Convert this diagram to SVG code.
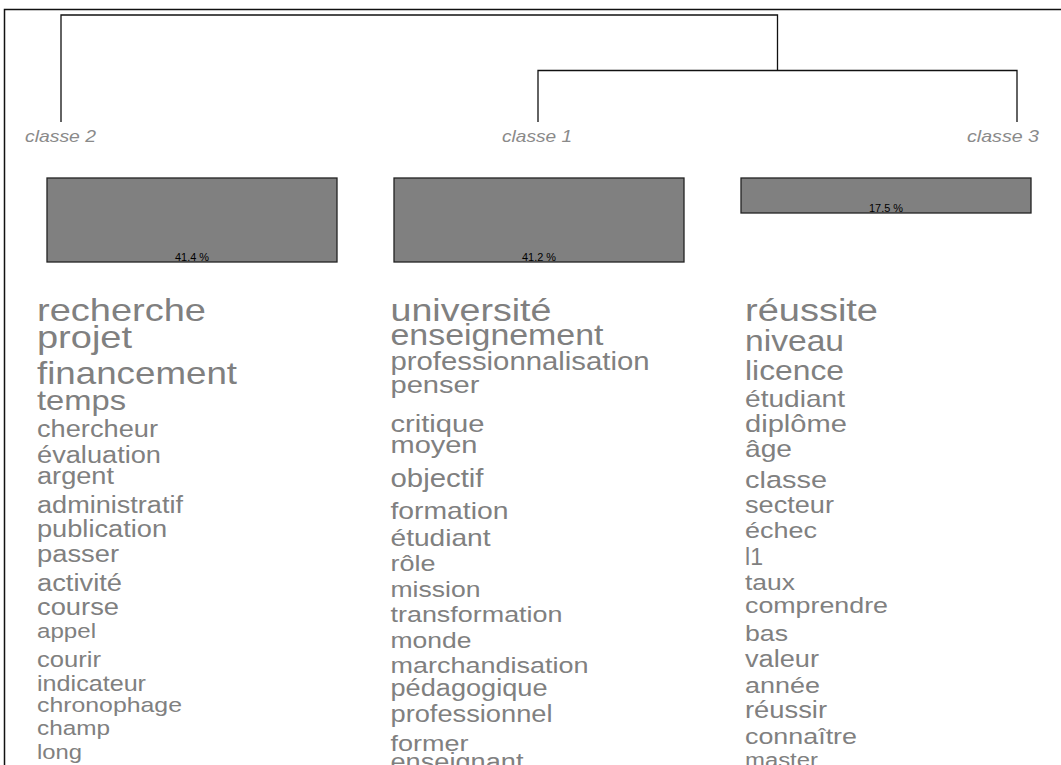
<svg xmlns="http://www.w3.org/2000/svg" width="1061" height="765" viewBox="0 0 1061 765">
<style>
.w{font-family:"Liberation Sans",Arial,sans-serif;fill:#808080}
.lab{font-family:"Liberation Sans",Arial,sans-serif;font-style:italic;font-size:17px;fill:#8a8a8a}
.pct{font-family:"Liberation Sans",Arial,sans-serif;font-size:10px;fill:#000;text-anchor:middle}
.bar{fill:#808080;stroke:#222;stroke-width:1.3}
.tree{fill:none;stroke:#111;stroke-width:1.3}
</style>
<rect x="0" y="0" width="1061" height="765" fill="#fff"/>
<rect x="4.5" y="9.5" width="1100" height="800" fill="none" stroke="#111" stroke-width="1.5"/>
<g id="connectors">
<path class="tree" d="M61,122 V15 H777.5 V70.5"/>
<path class="tree" d="M538,122 V70.5 H1017 V122"/>
</g>
<g id="classe2">
<text class="lab" x="25" y="142" textLength="71" lengthAdjust="spacingAndGlyphs">classe 2</text>
<rect class="bar" x="47" y="178" width="290" height="84"/>
<text class="pct" x="192" y="261" textLength="34" lengthAdjust="spacingAndGlyphs">41.4 %</text>
<g class="w">
<text x="37" y="321" font-size="32" textLength="169" lengthAdjust="spacingAndGlyphs">recherche</text>
<text x="37" y="348" font-size="32" textLength="95" lengthAdjust="spacingAndGlyphs">projet</text>
<text x="37" y="384" font-size="31.5" textLength="200" lengthAdjust="spacingAndGlyphs">financement</text>
<text x="37" y="410" font-size="28" textLength="89" lengthAdjust="spacingAndGlyphs">temps</text>
<text x="37" y="437" font-size="23" textLength="121" lengthAdjust="spacingAndGlyphs">chercheur</text>
<text x="37" y="463" font-size="23" textLength="124" lengthAdjust="spacingAndGlyphs">évaluation</text>
<text x="37" y="484" font-size="23" textLength="77" lengthAdjust="spacingAndGlyphs">argent</text>
<text x="37" y="513" font-size="23" textLength="146" lengthAdjust="spacingAndGlyphs">administratif</text>
<text x="37" y="537" font-size="23" textLength="130" lengthAdjust="spacingAndGlyphs">publication</text>
<text x="37" y="562" font-size="23" textLength="82" lengthAdjust="spacingAndGlyphs">passer</text>
<text x="37" y="591" font-size="23" textLength="85" lengthAdjust="spacingAndGlyphs">activité</text>
<text x="37" y="615" font-size="23" textLength="82" lengthAdjust="spacingAndGlyphs">course</text>
<text x="37" y="638" font-size="20.5" textLength="59" lengthAdjust="spacingAndGlyphs">appel</text>
<text x="37" y="667" font-size="21.5" textLength="64" lengthAdjust="spacingAndGlyphs">courir</text>
<text x="37" y="691" font-size="21.5" textLength="109" lengthAdjust="spacingAndGlyphs">indicateur</text>
<text x="37" y="712" font-size="21" textLength="145" lengthAdjust="spacingAndGlyphs">chronophage</text>
<text x="37" y="735" font-size="20.5" textLength="73" lengthAdjust="spacingAndGlyphs">champ</text>
<text x="37" y="759" font-size="20" textLength="45" lengthAdjust="spacingAndGlyphs">long</text>
</g>
</g>
<g id="classe1">
<text class="lab" x="502" y="142" textLength="70" lengthAdjust="spacingAndGlyphs">classe 1</text>
<rect class="bar" x="394" y="178" width="290" height="84"/>
<text class="pct" x="539" y="261" textLength="34" lengthAdjust="spacingAndGlyphs">41.2 %</text>
<g class="w">
<text x="390.5" y="321" font-size="31" textLength="161" lengthAdjust="spacingAndGlyphs">université</text>
<text x="390.5" y="345" font-size="29" textLength="213" lengthAdjust="spacingAndGlyphs">enseignement</text>
<text x="390.5" y="370" font-size="25.6" textLength="259" lengthAdjust="spacingAndGlyphs">professionnalisation</text>
<text x="390.5" y="393" font-size="24.7" textLength="89" lengthAdjust="spacingAndGlyphs">penser</text>
<text x="390.5" y="432" font-size="24.7" textLength="94" lengthAdjust="spacingAndGlyphs">critique</text>
<text x="390.5" y="453" font-size="24.4" textLength="87" lengthAdjust="spacingAndGlyphs">moyen</text>
<text x="390.5" y="487" font-size="24.9" textLength="93" lengthAdjust="spacingAndGlyphs">objectif</text>
<text x="390.5" y="519" font-size="24" textLength="118" lengthAdjust="spacingAndGlyphs">formation</text>
<text x="390.5" y="546" font-size="24" textLength="100" lengthAdjust="spacingAndGlyphs">étudiant</text>
<text x="390.5" y="571" font-size="22.7" textLength="45" lengthAdjust="spacingAndGlyphs">rôle</text>
<text x="390.5" y="597" font-size="22.5" textLength="90" lengthAdjust="spacingAndGlyphs">mission</text>
<text x="390.5" y="622" font-size="22.9" textLength="172" lengthAdjust="spacingAndGlyphs">transformation</text>
<text x="390.5" y="648" font-size="22.4" textLength="81" lengthAdjust="spacingAndGlyphs">monde</text>
<text x="390.5" y="673" font-size="22.9" textLength="198" lengthAdjust="spacingAndGlyphs">marchandisation</text>
<text x="390.5" y="696" font-size="23" textLength="157" lengthAdjust="spacingAndGlyphs">pédagogique</text>
<text x="390.5" y="722" font-size="23" textLength="162" lengthAdjust="spacingAndGlyphs">professionnel</text>
<text x="390.5" y="751" font-size="22.7" textLength="78" lengthAdjust="spacingAndGlyphs">former</text>
<text x="390.5" y="770" font-size="23" textLength="133" lengthAdjust="spacingAndGlyphs">enseignant</text>
</g>
</g>
<g id="classe3">
<text class="lab" x="967" y="142" textLength="72" lengthAdjust="spacingAndGlyphs">classe 3</text>
<rect class="bar" x="741" y="178" width="290" height="35"/>
<text class="pct" x="886" y="212" textLength="34" lengthAdjust="spacingAndGlyphs">17.5 %</text>
<g class="w">
<text x="745" y="321" font-size="31" textLength="133" lengthAdjust="spacingAndGlyphs">réussite</text>
<text x="745" y="351" font-size="30" textLength="99" lengthAdjust="spacingAndGlyphs">niveau</text>
<text x="745" y="380" font-size="28" textLength="99" lengthAdjust="spacingAndGlyphs">licence</text>
<text x="745" y="407" font-size="23.8" textLength="100" lengthAdjust="spacingAndGlyphs">étudiant</text>
<text x="745" y="432" font-size="24.6" textLength="102" lengthAdjust="spacingAndGlyphs">diplôme</text>
<text x="745" y="457" font-size="23.4" textLength="47" lengthAdjust="spacingAndGlyphs">âge</text>
<text x="745" y="488" font-size="24.5" textLength="82" lengthAdjust="spacingAndGlyphs">classe</text>
<text x="745" y="513" font-size="23" textLength="89" lengthAdjust="spacingAndGlyphs">secteur</text>
<text x="745" y="538" font-size="22.6" textLength="72" lengthAdjust="spacingAndGlyphs">échec</text>
<text x="745" y="565" font-size="23" textLength="18" lengthAdjust="spacingAndGlyphs">l1</text>
<text x="745" y="590" font-size="22" textLength="50" lengthAdjust="spacingAndGlyphs">taux</text>
<text x="745" y="613" font-size="22.8" textLength="143" lengthAdjust="spacingAndGlyphs">comprendre</text>
<text x="745" y="641" font-size="22.4" textLength="43" lengthAdjust="spacingAndGlyphs">bas</text>
<text x="745" y="667" font-size="23" textLength="74" lengthAdjust="spacingAndGlyphs">valeur</text>
<text x="745" y="693" font-size="22.7" textLength="75" lengthAdjust="spacingAndGlyphs">année</text>
<text x="745" y="718" font-size="23" textLength="82" lengthAdjust="spacingAndGlyphs">réussir</text>
<text x="745" y="744" font-size="22.8" textLength="112" lengthAdjust="spacingAndGlyphs">connaître</text>
<text x="745" y="766.5" font-size="20" textLength="73" lengthAdjust="spacingAndGlyphs">master</text>
</g>
</g>
</svg>
